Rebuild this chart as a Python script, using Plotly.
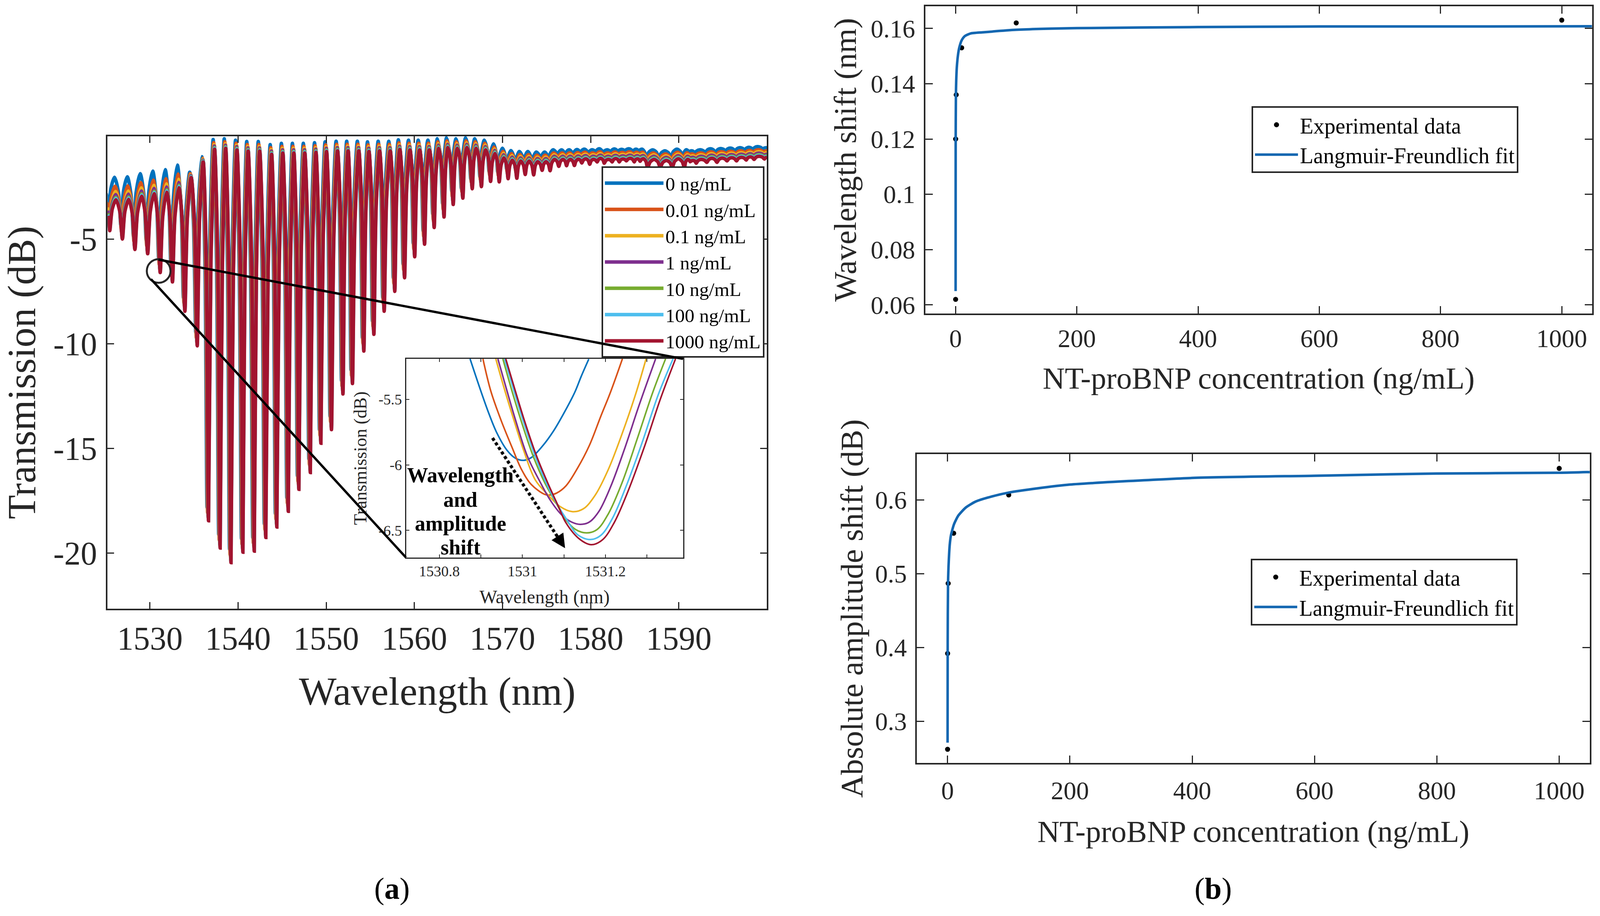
# SECTION 0: imports
import plotly.graph_objects as go

W, H = 4233, 2346
SERIF = "Liberation Serif"
INK = "#262626"

# ---------- panel (a): main spectrum ----------
CONC_LABELS = ["0 ng/mL", "0.01 ng/mL", "0.1 ng/mL", "1 ng/mL", "10 ng/mL", "100 ng/mL", "1000 ng/mL"]
CONC_COLORS = ["#0072BD", "#D95319", "#EDB120", "#7E2F8E", "#77AC30", "#4DBEEE", "#A2142F"]

# 1000 ng/mL curve: dip bottoms and the crests between them
TROUGH_WL = [1525.45, 1526.88, 1528.30, 1529.75, 1531.17, 1532.56, 1533.97, 1535.37, 1536.65, 1537.97,
             1539.20, 1540.55, 1541.84, 1543.15, 1544.40, 1545.70, 1546.90, 1548.20, 1549.40, 1550.60,
             1551.90, 1552.98, 1554.27, 1555.41, 1556.58, 1557.78, 1558.89, 1560.04, 1561.16, 1562.25,
             1563.37, 1564.41, 1565.50, 1566.57, 1567.61, 1568.65, 1569.63, 1570.64, 1571.63, 1572.58,
             1573.54, 1574.50, 1575.40, 1576.39, 1577.27, 1578.16, 1579.00, 1579.90, 1580.74, 1581.55,
             1582.44, 1583.25, 1584.06, 1584.95, 1585.61, 1586.46, 1587.90, 1589.26, 1590.64, 1591.30,
             1591.97, 1593.18, 1594.33, 1595.47, 1596.55, 1597.65, 1598.54, 1599.72]
TROUGH_DB = [-4.60, -5.00, -5.50, -5.70, -6.60, -7.05, -8.45, -10.10, -18.45, -19.75,
             -20.45, -19.95, -19.90, -19.25, -18.75, -18.00, -16.95, -16.15, -14.75, -14.10,
             -12.40, -11.90, -10.35, -9.55, -8.45, -7.50, -6.85, -5.85, -5.25, -4.45,
             -3.95, -3.35, -3.05, -2.60, -2.50, -2.25, -2.27, -2.12, -2.10, -1.92,
             -1.94, -1.72, -1.74, -1.53, -1.50, -1.49, -1.37, -1.43, -1.32, -1.38,
             -1.32, -1.32, -1.27, -1.32, -1.29, -1.60, -1.58, -1.58, -1.58, -1.31,
             -1.38, -1.34, -1.34, -1.27, -1.27, -1.23, -1.20, -1.18]
CREST_WL = [1526.15, 1527.60, 1529.06, 1530.48, 1531.90, 1533.28, 1534.68, 1536.05, 1537.34, 1538.60,
            1539.88, 1541.15, 1542.46, 1543.81, 1545.08, 1546.33, 1547.57, 1548.84, 1550.04, 1551.29,
            1552.49, 1553.70, 1554.85, 1556.06, 1557.26, 1558.35, 1559.50, 1560.60, 1561.70, 1562.78,
            1563.82, 1564.89, 1565.98, 1567.02, 1568.10, 1569.15, 1570.16, 1571.12, 1572.07, 1573.03,
            1573.99, 1574.94, 1575.90, 1576.86, 1577.70, 1578.60, 1579.45, 1580.30, 1581.15, 1582.00,
            1582.85, 1583.65, 1584.50, 1585.30, 1586.00, 1587.20, 1588.60, 1589.95, 1591.00, 1591.65,
            1592.55, 1593.75, 1594.90, 1596.00, 1597.10, 1598.10, 1599.10]
CREST_DB = [-3.13, -3.11, -2.96, -2.84, -2.77, -2.55, -2.06, -1.32, -0.71, -0.67,
            -0.74, -0.80, -0.80, -0.95, -0.89, -0.89, -0.89, -0.86, -0.82, -0.79,
            -0.79, -0.79, -0.82, -0.79, -0.79, -0.72, -0.74, -0.74, -0.74, -0.67,
            -0.63, -0.67, -0.63, -0.67, -0.74, -0.92, -1.13, -1.24, -1.28, -1.28,
            -1.31, -1.31, -1.20, -1.20, -1.20, -1.19, -1.17, -1.20, -1.15, -1.20,
            -1.16, -1.18, -1.15, -1.17, -1.17, -1.20, -1.25, -1.17, -1.20, -1.25,
            -1.20, -1.15, -1.14, -1.12, -1.10, -1.08, -1.05]
START_WL, START_DB = 1525.2, -3.90
END_WL, END_DB = 1600.0, -1.10

# how far each concentration sits above / left of the 1000 ng/mL curve
CREST_LIFT_LEFT = [1.08, 0.65, 0.40, 0.25, 0.12, 0.06, 0.0]     # crests below 1533.5 nm
CREST_LIFT_STEP = [0.25, 0.18, 0.13, 0.09, 0.05, 0.03, 0.0]     # crests up to 1537 nm
CREST_LIFT_REST = [0.46, 0.31, 0.22, 0.15, 0.08, 0.04, 0.0]     # all the others
TROUGH_LIFT = [0.64, 0.38, 0.25, 0.155, 0.09, 0.04, 0.0]
WL_SHIFT = [-0.163, -0.100, -0.045, -0.026, -0.011, -0.002, 0.0]

# dips are much narrower than the crests
SHOULDER_WIDTH = 0.20
SHOULDER_DEPTH = 0.30

X_TICKS_A = [1530, 1540, 1550, 1560, 1570, 1580, 1590]
Y_TICKS_A = [-5, -10, -15, -20]

# ---------- inset of (a) ----------
INSET_WL = [
    [1530.874, 1530.900, 1530.919, 1530.938, 1530.963, 1530.984, 1531.003, 1531.021, 1531.049, 1531.075, 1531.100, 1531.126, 1531.142, 1531.160],
    [1530.905, 1530.924, 1530.949, 1530.975, 1530.998, 1531.021, 1531.054, 1531.066, 1531.082, 1531.105, 1531.133, 1531.161, 1531.189, 1531.212, 1531.241],
    [1530.936, 1530.956, 1530.980, 1531.003, 1531.031, 1531.063, 1531.091, 1531.121, 1531.147, 1531.175, 1531.207, 1531.240, 1531.273, 1531.298],
    [1530.941, 1530.961, 1530.984, 1531.012, 1531.040, 1531.068, 1531.096, 1531.119, 1531.140, 1531.161, 1531.184, 1531.212, 1531.245, 1531.282, 1531.321],
    [1530.953, 1530.975, 1530.998, 1531.026, 1531.054, 1531.082, 1531.105, 1531.128, 1531.155, 1531.180, 1531.207, 1531.240, 1531.277, 1531.314, 1531.345],
    [1530.957, 1530.980, 1531.003, 1531.031, 1531.059, 1531.087, 1531.105, 1531.133, 1531.164, 1531.189, 1531.217, 1531.249, 1531.287, 1531.328, 1531.363],
    [1530.960, 1530.982, 1531.005, 1531.033, 1531.061, 1531.087, 1531.105, 1531.138, 1531.166, 1531.193, 1531.221, 1531.254, 1531.296, 1531.333, 1531.369],
]
INSET_DB = [
    [-5.190, -5.436, -5.605, -5.752, -5.888, -5.950, -5.965, -5.945, -5.854, -5.741, -5.605, -5.447, -5.322, -5.192],
    [-5.190, -5.436, -5.662, -5.865, -6.035, -6.148, -6.225, -6.230, -6.216, -6.160, -6.024, -5.854, -5.628, -5.447, -5.190],
    [-5.190, -5.413, -5.662, -5.888, -6.114, -6.233, -6.318, -6.357, -6.335, -6.233, -6.035, -5.764, -5.458, -5.190],
    [-5.190, -5.413, -5.662, -5.933, -6.114, -6.273, -6.386, -6.437, -6.454, -6.437, -6.357, -6.171, -5.888, -5.537, -5.190],
    [-5.190, -5.436, -5.673, -5.933, -6.137, -6.295, -6.420, -6.493, -6.519, -6.493, -6.374, -6.137, -5.798, -5.447, -5.190],
    [-5.190, -5.436, -5.673, -5.933, -6.148, -6.318, -6.408, -6.533, -6.570, -6.538, -6.408, -6.171, -5.843, -5.458, -5.190],
    [-5.190, -5.424, -5.662, -5.922, -6.137, -6.318, -6.442, -6.567, -6.609, -6.572, -6.442, -6.205, -5.843, -5.492, -5.190],
]
INSET_X_TICKS = [1530.8, 1530.9, 1531, 1531.1, 1531.2, 1531.3]
INSET_X_LABELS = ["1530.8", "", "1531", "", "1531.2", ""]
INSET_Y_TICKS = [-5.5, -6, -6.5]
INSET_NOTE = ["Wavelength", "and", "amplitude", "shift"]

# ---------- panel (b) ----------
CONC_POINTS = [0.01, 0.1, 1, 10, 100, 1000]
WL_SHIFT_POINTS = [0.062, 0.120, 0.136, 0.153, 0.162, 0.163]
AMP_SHIFT_POINTS = [0.262, 0.392, 0.487, 0.555, 0.607, 0.643]

FIT_WL_X = [0.01, 0.1, 0.5, 1, 2, 4, 6, 10, 15, 25, 45, 100, 200, 400, 600, 800, 1050]
FIT_WL_Y = [0.065, 0.118, 0.136, 0.141, 0.146, 0.1505, 0.153, 0.1557, 0.1572, 0.1582, 0.1586, 0.1595, 0.1601, 0.1605, 0.1607, 0.1607, 0.1608]
FIT_AMP_X = [0.01, 0.2, 0.8, 2, 3.5, 5.5, 10.4, 17.6, 30, 46, 72.8, 99, 148, 200, 400, 600, 800, 1000, 1050]
FIT_AMP_Y = [0.271, 0.406, 0.489, 0.518, 0.539, 0.552, 0.567, 0.579, 0.590, 0.598, 0.605, 0.610, 0.616, 0.621, 0.630, 0.633, 0.636, 0.637, 0.638]
FIT_COLOR = "#1467B1"

X_TICKS_B = [0, 200, 400, 600, 800, 1000]
Y_TICKS_B1 = [0.06, 0.08, 0.1, 0.12, 0.14, 0.16]
Y_TICKS_B2 = [0.3, 0.4, 0.5, 0.6]


def px_x(v):
    return v / W


def px_y(v):
    return 1 - v / H


# picture pixels to the data units of panel (a), for the guide lines
def wl_at(v):
    return 1525.2 + (v - 284.6) / (2029 - 284.6) * 74.8


def db_at(v):
    return -0.09 - (v - 351) / (1569 - 351) * 22.56


# ---------- SECTION 1: spectrum ----------
def crest_lift(wl, i):
    if wl < 1533.5:
        return CREST_LIFT_LEFT[i]
    if wl < 1537:
        return CREST_LIFT_STEP[i]
    return CREST_LIFT_REST[i]


def spectrum(i):
    """Crest and dip readings of series i, with a shoulder either side of every dip."""
    crests = [(START_WL, START_DB)] + list(zip(CREST_WL, CREST_DB)) + [(END_WL, END_DB)]
    xs, ys = [], []
    for k, (t_wl, t_db) in enumerate(zip(TROUGH_WL, TROUGH_DB)):
        c_wl, c_db = crests[k]
        n_wl, n_db = crests[k + 1]
        lift_c = crest_lift(c_wl, i)
        lift_n = crest_lift(n_wl, i)
        lift_t = TROUGH_LIFT[i] if t_wl < 1565 else crest_lift(t_wl, i)
        xs.append(c_wl + WL_SHIFT[i])
        ys.append(c_db + lift_c)
        xs.append(t_wl - SHOULDER_WIDTH * (t_wl - c_wl) * 2 + WL_SHIFT[i])
        ys.append(c_db + lift_c + SHOULDER_DEPTH * (t_db + lift_t - c_db - lift_c))
        xs.append(t_wl + WL_SHIFT[i])
        ys.append(t_db + lift_t)
        xs.append(t_wl + SHOULDER_WIDTH * (n_wl - t_wl) * 2 + WL_SHIFT[i])
        ys.append(n_db + lift_n + SHOULDER_DEPTH * (t_db + lift_t - n_db - lift_n))
    xs.append(END_WL)
    ys.append(END_DB + crest_lift(END_WL, i))
    return xs, ys


fig = go.Figure()

for i, (label, color) in enumerate(zip(CONC_LABELS, CONC_COLORS)):
    xs, ys = spectrum(i)
    fig.add_trace(go.Scatter(
        x=xs, y=ys, mode="lines", name=label,
        line=dict(color=color, width=9, shape="spline", smoothing=0.8),
        xaxis="x", yaxis="y", legend="legend",
    ))

for wl, db, color in zip(INSET_WL, INSET_DB, CONC_COLORS):
    fig.add_trace(go.Scatter(
        x=wl, y=db, mode="lines", showlegend=False,
        line=dict(color=color, width=4, shape="spline"),
        xaxis="x2", yaxis="y2",
    ))

# ---------- SECTION 2: the two fits ----------
fig.add_trace(go.Scatter(x=CONC_POINTS, y=WL_SHIFT_POINTS, mode="markers", name="Experimental data",
                         marker=dict(color="black", size=13), xaxis="x3", yaxis="y3", legend="legend2"))
fig.add_trace(go.Scatter(x=FIT_WL_X, y=FIT_WL_Y, mode="lines", name="Langmuir-Freundlich fit",
                         line=dict(color=FIT_COLOR, width=6.5, shape="spline", smoothing=0.6),
                         xaxis="x3", yaxis="y3", legend="legend2"))
fig.add_trace(go.Scatter(x=CONC_POINTS, y=AMP_SHIFT_POINTS, mode="markers", name="Experimental data",
                         marker=dict(color="black", size=13), xaxis="x4", yaxis="y4", legend="legend3"))
fig.add_trace(go.Scatter(x=FIT_AMP_X, y=FIT_AMP_Y, mode="lines", name="Langmuir-Freundlich fit",
                         line=dict(color=FIT_COLOR, width=6.5, shape="spline", smoothing=0.6),
                         xaxis="x4", yaxis="y4", legend="legend3"))


# ---------- SECTION 3: axes ----------
def axis(anchor, domain, rng, ticks, labels, size, title, title_size, standoff, ticklen,
         line=4, tickw=3, label_gap=0):
    return dict(
        anchor=anchor, domain=domain, range=rng, tickmode="array", tickvals=ticks, ticktext=labels,
        ticks="inside", ticklen=ticklen, tickwidth=tickw, tickcolor=INK,
        showline=True, linecolor=INK, linewidth=line, mirror="ticks",
        showgrid=False, zeroline=False, layer="above traces", ticklabelstandoff=label_gap,
        tickfont=dict(family=SERIF, size=size, color=INK),
        title=dict(text=title, font=dict(family=SERIF, size=title_size, color=INK), standoff=standoff),
    )


def strs(vals):
    return [str(v) for v in vals]


def legend_box(x, y, size, item, gap=0):
    return dict(
        x=px_x(x), y=px_y(y), xanchor="left", yanchor="top",
        bgcolor="white", bordercolor=INK, borderwidth=4,
        font=dict(family=SERIF, size=size, color="black"),
        itemwidth=item, tracegroupgap=gap, itemclick=False, itemdoubleclick=False,
    )


fig.update_layout(
    height=H, margin=dict(l=0, r=0, t=0, b=0),
    paper_bgcolor="white", plot_bgcolor="white", showlegend=True,
    xaxis=axis("y", [px_x(284.6), px_x(2029)], [1525.2, 1600], X_TICKS_A, strs(X_TICKS_A), 84,
               "Wavelength (nm)", 102, 54, 17),
    yaxis=axis("x", [px_y(1569), px_y(351)], [-22.65, -0.09], Y_TICKS_A, strs(Y_TICKS_A), 84,
               "Transmission (dB)", 101, 32, 17, label_gap=6),
    xaxis2=axis("y2", [px_x(1074.5), px_x(1807)], [1530.72, 1531.387], INSET_X_TICKS, INSET_X_LABELS, 38,
                "Wavelength (nm)", 48, 28, 8, line=3, tickw=2),
    yaxis2=axis("x2", [px_y(1437), px_y(925)], [-6.707, -5.19], INSET_Y_TICKS, strs(INSET_Y_TICKS), 38,
                "Transmission (dB)", 46, 16, 8, line=3, tickw=2),
    xaxis3=axis("y3", [px_x(2448), px_x(4212)], [-50, 1050], X_TICKS_B, strs(X_TICKS_B), 65,
                "NT-proBNP concentration (ng/mL)", 78.5, 39, 19, label_gap=4),
    yaxis3=axis("x3", [px_y(808), px_y(16)], [0.0569, 0.16804], Y_TICKS_B1, strs(Y_TICKS_B1), 65,
                "Wavelength shift (nm)", 81, 12, 19, label_gap=9),
    xaxis4=axis("y4", [px_x(2426), px_x(4206)], [-50, 1050], X_TICKS_B, strs(X_TICKS_B), 65,
                "NT-proBNP concentration (ng/mL)", 78.5, 42, 19, label_gap=11),
    yaxis4=axis("x4", [px_y(1967), px_y(1170)], [0.2433, 0.6626], Y_TICKS_B2, strs(Y_TICKS_B2), 65,
                "Absolute amplitude shift (dB)", 81, 6, 19, label_gap=9),
    legend=legend_box(1591, 429, 49.5, 150),
    legend2=legend_box(3311, 274, 56.5, 110),
    legend3=legend_box(3309, 1440, 56.5, 110),
)

# ---------- SECTION 4: zoom circle, guide lines, notes ----------
fig.add_shape(type="circle", xref="x", yref="y", x0=1529.65, x1=1532.34, y0=-7.09, y1=-5.96,
              line=dict(color=INK, width=5), layer="above")
for x0, y0, x1, y1 in [(418, 669, 1807, 925), (398, 718, 1074, 1437)]:
    fig.add_annotation(xref="x", yref="y", x=wl_at(x1), y=db_at(y1), axref="x", ayref="y",
                       ax=wl_at(x0), ay=db_at(y0), text=" ", font=dict(size=1), showarrow=True,
                       arrowhead=0, arrowwidth=6, arrowcolor="black", standoff=0)

fig.add_shape(type="line", xref="paper", yref="paper", x0=px_x(1303), y0=px_y(1129), x1=px_x(1478), y1=px_y(1388),
              line=dict(color="black", width=8, dash="8px,6px"), layer="above")
fig.add_annotation(xref="x", yref="y", x=wl_at(1495), y=db_at(1413), axref="x", ayref="y",
                   ax=wl_at(1481), ay=db_at(1392), text=" ", font=dict(size=1), showarrow=True,
                   arrowhead=2, arrowsize=0.9, arrowwidth=8, arrowcolor="black", standoff=0)

for line, y in zip(INSET_NOTE, [1225, 1288, 1350, 1411]):
    fig.add_annotation(xref="paper", yref="paper", x=px_x(1218), y=px_y(y), xanchor="center", yanchor="middle",
                       showarrow=False, text=f"<b>{line}</b>", font=dict(family=SERIF, size=54, color="black"))

for text, x in [("(<b>a</b>)", 1037), ("(<b>b</b>)", 3209)]:
    fig.add_annotation(xref="paper", yref="paper", x=px_x(x), y=px_y(2290), xanchor="center", yanchor="middle",
                       showarrow=False, text=text, font=dict(family=SERIF, size=78, color="black"))

fig.write_html("out.html", config={"displayModeBar": False},
               post_script="document.body.style.margin='0';Plotly.Plots.resize(document.getElementById('{plot_id}'));")
